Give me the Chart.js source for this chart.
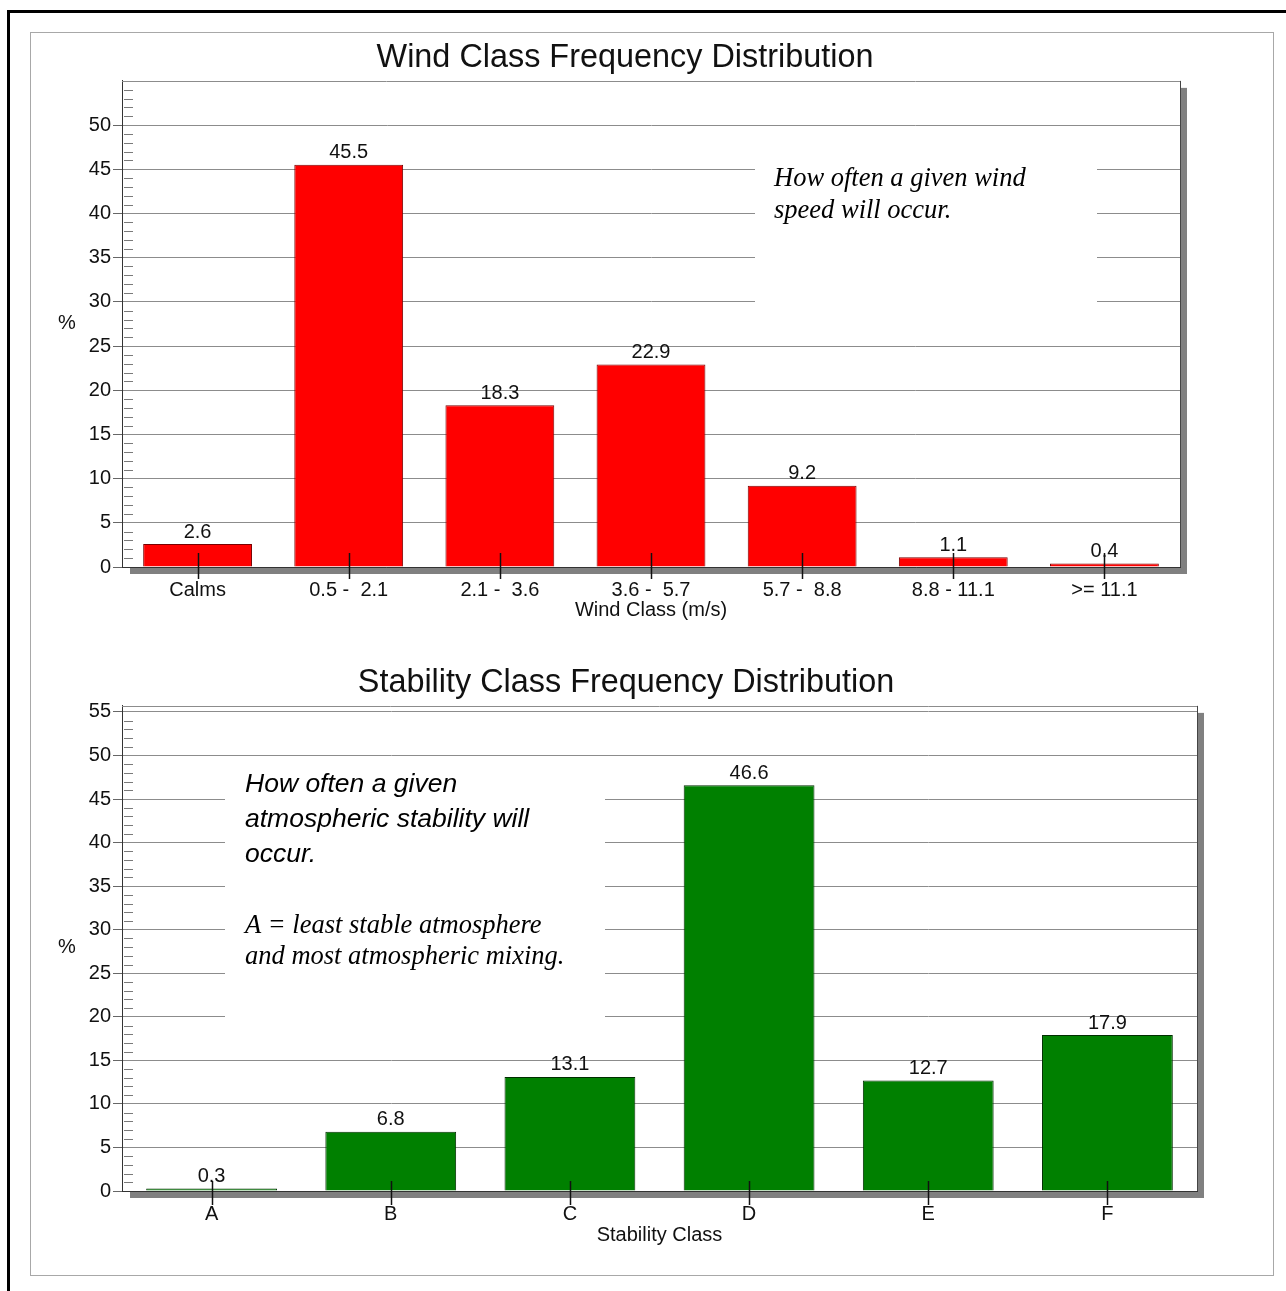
<!DOCTYPE html>
<html>
<head>
<meta charset="utf-8">
<title>Wind and Stability Class Frequency Distribution</title>
<script src="https://cdn.jsdelivr.net/npm/chart.js@4.4.1/dist/chart.umd.min.js"></script>
<style>
  body { margin: 0; background: #fff; width: 1286px; height: 1291px; overflow: hidden; position: relative; }
  #outer { position: absolute; left: 7px; top: 10px; width: 1400px; height: 1400px; border-left: 3px solid #000; border-top: 3px solid #000; }
  #inner { position: absolute; left: 30px; top: 32px; width: 1242px; height: 1242px; border: 1px solid #a8a8a8; }
  canvas { position: absolute; left: 0; }
  #windChart { top: 0; }
  #stabChart { top: 630px; }
</style>
</head>
<body>
<div id="outer"></div>
<div id="inner"></div>
<canvas id="windChart" width="1250" height="622"></canvas>
<canvas id="stabChart" width="1252" height="617"></canvas>
<script>
const windClasses = ["Calms", "0.5 -  2.1", "2.1 -  3.6", "3.6 -  5.7", "5.7 -  8.8", "8.8 - 11.1", ">= 11.1"];
const windPct = [2.6, 45.5, 18.3, 22.9, 9.2, 1.1, 0.4];
const windTicks = [0, 5, 10, 15, 20, 25, 30, 35, 40, 45, 50];

const stabClasses = ["A", "B", "C", "D", "E", "F"];
const stabPct = [0.3, 6.8, 13.1, 46.6, 12.7, 17.9];
const stabTicks = [0, 5, 10, 15, 20, 25, 30, 35, 40, 45, 50, 55];

const SANS = "'Liberation Sans', Arial, sans-serif";
const SERIF = "'Liberation Serif', 'Times New Roman', serif";
Chart.defaults.font.family = SANS;

// extra drawing: shadow, minor ticks, note box, value labels, category ticks
const deco = {
  id: "deco",
  beforeDatasetsDraw(chart, args, o) {
    const { ctx, chartArea: a, scales: { y } } = chart;
    ctx.save();
    // drop shadow right and bottom
    ctx.fillStyle = "#808080";
    ctx.fillRect(a.left + 8, a.bottom + 1, a.right - a.left - 1, 6);
    ctx.fillRect(a.right + 1, a.top + 7, 6, a.bottom - a.top);
    // frame top + right
    ctx.strokeStyle = "#8c8c8c";
    ctx.lineWidth = 1;
    ctx.beginPath();
    ctx.moveTo(a.left, Math.round(a.top) + 0.5);
    ctx.lineTo(a.right, Math.round(a.top) + 0.5);
    ctx.stroke();
    ctx.strokeStyle = "#444";
    ctx.beginPath();
    ctx.moveTo(Math.round(a.right) + 0.5, a.top);
    ctx.lineTo(Math.round(a.right) + 0.5, a.bottom);
    ctx.stroke();
    // minor ticks every 1 %
    ctx.strokeStyle = "#7a7a7a";
    for (let v = 1; v < y.max; v++) {
      if (v % 5 === 0) continue;
      const py = Math.round(y.getPixelForValue(v)) + 0.5;
      ctx.beginPath();
      ctx.moveTo(a.left + 2, py);
      ctx.lineTo(a.left + 11, py);
      ctx.stroke();
    }
    // note box
    const n = o.note;
    ctx.fillStyle = "#fff";
    ctx.fillRect(n.x, n.y, n.w, n.h);
    ctx.fillStyle = "#000";
    ctx.textAlign = "left";
    ctx.textBaseline = "middle";
    n.lines.forEach(l => {
      ctx.font = l.font;
      ctx.fillText(l.text, n.x + n.pad, l.y);
    });
    // % label
    ctx.font = "20px " + SANS;
    ctx.fillStyle = "#111";
    ctx.textAlign = "center";
    ctx.fillText("%", o.pct.x, o.pct.y);
    ctx.restore();
  },
  afterDatasetsDraw(chart, args, o) {
    const { ctx, chartArea: a, scales: { x } } = chart;
    const meta = chart.getDatasetMeta(0);
    const vals = chart.data.datasets[0].data;
    ctx.save();
    ctx.font = "20px " + SANS;
    ctx.fillStyle = "#111";
    ctx.textAlign = "center";
    ctx.textBaseline = "middle";
    meta.data.forEach((bar, i) => {
      ctx.fillText(vals[i].toFixed(1), bar.x, bar.y - 12);
    });
    ctx.strokeStyle = "#111";
    ctx.lineWidth = 1.5;
    chart.data.labels.forEach((lab, i) => {
      const px = Math.round(x.getPixelForValue(i)) + 0.5;
      ctx.beginPath();
      ctx.moveTo(px, a.bottom - o.tickUp);
      ctx.lineTo(px, a.bottom + o.tickDown);
      ctx.stroke();
    });
    ctx.restore();
  }
};

function yAxis(max, ticks, w) {
  return {
    min: 0,
    max: max,
    afterBuildTicks: s => { s.ticks = ticks.map(v => ({ value: v })); },
    afterFit: s => { s.width = w; },
    grid: { color: "#8c8c8c", tickColor: "#666", tickLength: 9, lineWidth: 1 },
    border: { color: "#333", width: 1 },
    ticks: { color: "#111", padding: 2, font: { size: 20 } }
  };
}

function xAxis(title, h) {
  return {
    afterFit: s => { s.height = h; },
    grid: { display: false, drawTicks: false },
    border: { color: "#333", width: 1 },
    ticks: { color: "#111", padding: 11, autoSkip: false, maxRotation: 0, font: { size: 20 } },
    title: { display: true, text: title, color: "#111", font: { size: 20 }, padding: { top: 0, bottom: 0 } }
  };
}

const windChart = new Chart(document.getElementById("windChart"), {
  type: "bar",
  data: {
    labels: windClasses,
    datasets: [{
      label: "Wind Class",
      data: windPct,
      backgroundColor: "#ff0000",
      borderColor: "#7a0000",
      borderWidth: 1,
      categoryPercentage: 1,
      barPercentage: 0.72
    }]
  },
  options: {
    responsive: false,
    animation: false,
    layout: { padding: { left: 70, right: 70, top: 0, bottom: 0 } },
    scales: {
      x: xAxis("Wind Class (m/s)", 55),
      y: yAxis(55, windTicks, 52)
    },
    plugins: {
      legend: { display: false },
      tooltip: { enabled: false },
      title: {
        display: true,
        text: "Wind Class Frequency Distribution",
        color: "#111",
        font: { size: 32.4, weight: "normal" },
        padding: { top: 39, bottom: 3 }
      },
      deco: {
        tickUp: 14, tickDown: 12,
        pct: { x: 67, y: 323 },
        note: {
          x: 755, y: 137, w: 342, h: 192, pad: 19,
          lines: [
            { text: "How often a given wind", y: 179, font: "italic 26.5px " + SERIF },
            { text: "speed will occur.", y: 211, font: "italic 26.5px " + SERIF }
          ]
        }
      }
    }
  },
  plugins: [deco]
});

const stabChart = new Chart(document.getElementById("stabChart"), {
  type: "bar",
  data: {
    labels: stabClasses,
    datasets: [{
      label: "Stability Class",
      data: stabPct,
      backgroundColor: "#008000",
      borderColor: "#002e00",
      borderWidth: 1,
      categoryPercentage: 1,
      barPercentage: 0.73
    }]
  },
  options: {
    responsive: false,
    animation: false,
    layout: { padding: { left: 55, right: 55, top: 0, bottom: 0 } },
    scales: {
      x: xAxis("Stability Class", 56),
      y: yAxis(55.7, stabTicks, 67)
    },
    plugins: {
      legend: { display: false },
      tooltip: { enabled: false },
      title: {
        display: true,
        text: "Stability Class Frequency Distribution",
        color: "#111",
        font: { size: 32.4, weight: "normal" },
        padding: { top: 34, bottom: 3 }
      },
      deco: {
        tickUp: 10, tickDown: 14,
        pct: { x: 67, y: 317 },
        note: {
          x: 225, y: 132, w: 380, h: 270, pad: 20,
          lines: [
            { text: "How often a given", y: 155, font: "italic 26.5px " + SANS },
            { text: "atmospheric stability will", y: 190, font: "italic 26.5px " + SANS },
            { text: "occur.", y: 225, font: "italic 26.5px " + SANS },
            { text: "A = least stable atmosphere", y: 296, font: "italic 26.5px " + SERIF },
            { text: "and most atmospheric mixing.", y: 327, font: "italic 26.5px " + SERIF }
          ]
        }
      }
    }
  },
  plugins: [deco]
});
</script>
</body>
</html>
